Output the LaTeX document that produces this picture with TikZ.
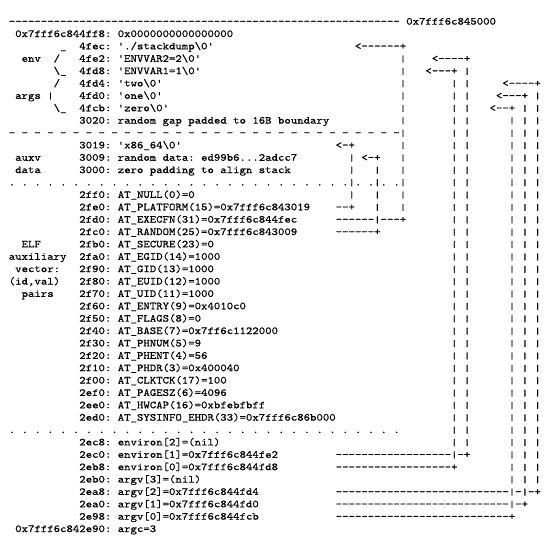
\documentclass[tikz,border=0pt]{standalone}
\usepackage{fontspec}
\usepackage{tikz}
\usetikzlibrary{positioning}
\newfontfamily\stackfont{lmmono10-regular.otf}[FakeStretch=1.141,FakeBold=0.5,WordSpace={1,0,0}]
\tikzset{
  stacktext/.style={
      anchor=base west,
      inner sep=0pt,
      outer sep=0pt,
      font=\stackfont\fontsize{10.7pt}{12pt}\selectfont\frenchspacing,
  },
  stackbar/.style={
      stacktext,
      yscale=0.86,
      transform shape,
  },
}
\newcommand{\bs}{\textbackslash}

\begin{document}
\begin{tikzpicture}[x=6.41pt,y=-12.375pt]
  \useasboundingbox[fill=white] (-1.373,-0.99) rectangle (85.05,42.566);

  % top of the stack
  \node[stacktext] (topline) at (0,1) {-------------------------------------------------------------};
  \node[stacktext] (topaddr) at (62,1) {0x7fff6c845000};
  \node[stacktext] (a4ff8) at (1,2) {0x7fff6c844ff8: 0x0000000000000000};

  % strings: env and args
  \node[stacktext] (lenv0) at (8,3) {\_};
  \node[stacktext] (a4fec) at (11,3) {4fec: './stackdump\bs 0'};
  \node[stacktext] (lenv) at (2,4) {env};
  \node[stacktext] (lenv1) at (7,4) {/};
  \node[stacktext] (a4fe2) at (11,4) {4fe2: 'ENVVAR2=2\bs 0'};
  \node[stacktext] (lenv2) at (7,5) {\bs\_};
  \node[stacktext] (a4fd8) at (11,5) {4fd8: 'ENVVAR1=1\bs 0'};
  \node[stacktext] (largs1) at (7,6) {/};
  \node[stacktext] (a4fd4) at (11,6) {4fd4: 'two\bs 0'};
  \node[stacktext] (largs) at (1,7) {args};
  \node[stackbar] (largs2) at (6,7) {|};
  \node[stacktext] (a4fd0) at (11,7) {4fd0: 'one\bs 0'};
  \node[stacktext] (largs3) at (7,8) {\bs\_};
  \node[stacktext] (a4fcb) at (11,8) {4fcb: 'zero\bs 0'};
  \node[stacktext] (a3020) at (11,9) {3020: random gap padded to 16B boundary};

  % auxv data
  \node[stacktext] (a3019) at (11,11) {3019: 'x86\_64\bs 0'};
  \node[stacktext] (lauxv) at (1,12) {auxv};
  \node[stacktext] (a3009) at (11,12) {3009: random data: ed99b6...2adcc7};
  \node[stacktext] (ldata) at (1,13) {data};
  \node[stacktext] (a3000) at (11,13) {3000: zero padding to align stack};

  % auxiliary vector
  \node[stacktext] (a2ff0) at (11,15) {2ff0: AT\_NULL(0)=0};
  \node[stacktext] (a2fe0) at (11,16) {2fe0: AT\_PLATFORM(15)=0x7fff6c843019};
  \node[stacktext] (a2fd0) at (11,17) {2fd0: AT\_EXECFN(31)=0x7fff6c844fec};
  \node[stacktext] (a2fc0) at (11,18) {2fc0: AT\_RANDOM(25)=0x7fff6c843009};
  \node[stacktext] (lelf) at (2,19) {ELF};
  \node[stacktext] (a2fb0) at (11,19) {2fb0: AT\_SECURE(23)=0};
  \node[stacktext] (laux) at (0,20) {auxiliary};
  \node[stacktext] (a2fa0) at (11,20) {2fa0: AT\_EGID(14)=1000};
  \node[stacktext] (lvec) at (1,21) {vector:};
  \node[stacktext] (a2f90) at (11,21) {2f90: AT\_GID(13)=1000};
  \node[stacktext] (lidval) at (0,22) {(id,val)};
  \node[stacktext] (a2f80) at (11,22) {2f80: AT\_EUID(12)=1000};
  \node[stacktext] (lpairs) at (2,23) {pairs};
  \node[stacktext] (a2f70) at (11,23) {2f70: AT\_UID(11)=1000};
  \node[stacktext] (a2f60) at (11,24) {2f60: AT\_ENTRY(9)=0x4010c0};
  \node[stacktext] (a2f50) at (11,25) {2f50: AT\_FLAGS(8)=0};
  \node[stacktext] (a2f40) at (11,26) {2f40: AT\_BASE(7)=0x7ff6c1122000};
  \node[stacktext] (a2f30) at (11,27) {2f30: AT\_PHNUM(5)=9};
  \node[stacktext] (a2f20) at (11,28) {2f20: AT\_PHENT(4)=56};
  \node[stacktext] (a2f10) at (11,29) {2f10: AT\_PHDR(3)=0x400040};
  \node[stacktext] (a2f00) at (11,30) {2f00: AT\_CLKTCK(17)=100};
  \node[stacktext] (a2ef0) at (11,31) {2ef0: AT\_PAGESZ(6)=4096};
  \node[stacktext] (a2ee0) at (11,32) {2ee0: AT\_HWCAP(16)=0xbfebfbff};
  \node[stacktext] (a2ed0) at (11,33) {2ed0: AT\_SYSINFO\_EHDR(33)=0x7fff6c86b000};

  % environ and argv pointers
  \node[stacktext] (a2ec8) at (11,35) {2ec8: environ[2]=(nil)};
  \node[stacktext] (a2ec0) at (11,36) {2ec0: environ[1]=0x7fff6c844fe2};
  \node[stacktext] (a2eb8) at (11,37) {2eb8: environ[0]=0x7fff6c844fd8};
  \node[stacktext] (a2eb0) at (11,38) {2eb0: argv[3]=(nil)};
  \node[stacktext] (a2ea8) at (11,39) {2ea8: argv[2]=0x7fff6c844fd4};
  \node[stacktext] (a2ea0) at (11,40) {2ea0: argv[1]=0x7fff6c844fd0};
  \node[stacktext] (a2e98) at (11,41) {2e98: argv[0]=0x7fff6c844fcb};
  \node[stacktext] (a2e90) at (1,42) {0x7fff6c842e90: argc=3};

  % separators
  \foreach \c in {0,2,...,60} {
    \node[stacktext] (dash-\c) at (\c,10) {-};
    \node[stacktext] (dotA-\c) at (\c,14) {.};
    \node[stacktext] (dotB-\c) at (\c,34) {.};
  }

  % pointer arrows
  \node[stacktext] (pexe) at (54,3) {<------+};
  \node[stacktext] (penv2) at (66,4) {<----+};
  \node[stacktext] (penv1) at (65,5) {<---+};
  \node[stacktext] (parg2) at (77,6) {<----+};
  \node[stacktext] (parg1) at (76,7) {<---+};
  \node[stacktext] (parg0) at (75,8) {<--+};
  \node[stacktext] (pplat) at (51,11) {<-+};
  \node[stacktext] (prand) at (55,12) {<-+};
  \node[stacktext] (fplat) at (51,16) {--+};
  \node[stacktext] (fexe) at (51,17) {-----\kern0pt-};
  \node[stacktext] (fexe2) at (58,17) {---+};
  \node[stacktext] (frand) at (51,18) {------+};
  \node[stacktext] (fenv1) at (51,36) {------------------};
  \node[stacktext] (fenv12) at (70,36) {-+};
  \node[stacktext] (fenv0) at (51,37) {------------------+};
  \node[stacktext] (farg2) at (51,39) {---------------------------};
  \node[stacktext] (farg22) at (79,39) {-};
  \node[stacktext] (farg23) at (81,39) {-+};
  \node[stacktext] (farg1) at (51,40) {---------------------------};
  \node[stacktext] (farg12) at (79,40) {-+};
  \node[stacktext] (farg0) at (51,41) {---------------------------+};

  % vertical runs
  \foreach \c/\a/\b in {61/4/16, 71/5/35, 69/6/36, 82/7/38, 80/8/39, 78/9/40, 53/12/15, 57/13/17}
    \foreach \r in {\a,...,\b}
      \node[stackbar] (bar-\c-\r) at (\c,\r) {|};
\end{tikzpicture}
\end{document}
